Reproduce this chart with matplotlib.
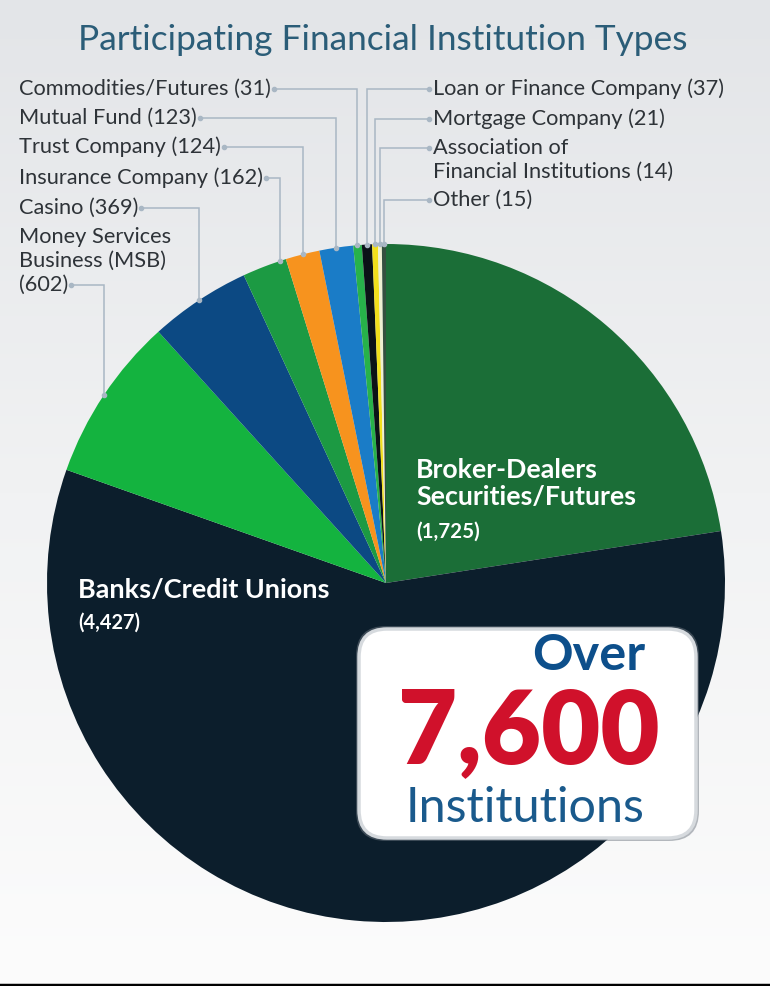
import matplotlib
matplotlib.use("Agg")
import matplotlib.pyplot as plt
import numpy as np
from matplotlib.patches import FancyBboxPatch
from matplotlib.colors import LinearSegmentedColormap

# ---------------- data ----------------
categories = ["Broker-Dealers Securities/Futures", "Banks/Credit Unions",
              "Money Services Business (MSB)", "Casino", "Insurance Company",
              "Trust Company", "Mutual Fund", "Commodities/Futures",
              "Loan or Finance Company", "Mortgage Company",
              "Association of Financial Institutions", "Other"]
counts = [1725, 4427, 602, 369, 162, 124, 123, 31, 37, 21, 14, 15]
slice_colors = ["#1b6e37", "#0c1e2c", "#14b33f", "#0c4983", "#1c9a43",
                "#f7931e", "#1a7cc7", "#27b24a", "#0b1217", "#f2df1c",
                "#eef0d2", "#34503f"]
title = "Participating Financial Institution Types"
total_text = ["Over", "7,600", "Institutions"]

# outside labels: (index, lines, side, y of leader in px)
outside = [
    (7, ["Commodities/Futures (31)"], "L", 89),
    (6, ["Mutual Fund (123)"], "L", 118),
    (5, ["Trust Company (124)"], "L", 147),
    (4, ["Insurance Company (162)"], "L", 178),
    (3, ["Casino (369)"], "L", 208),
    (2, ["Money Services", "Business (MSB)", "(602)"], "L", 285),
    (8, ["Loan or Finance Company (37)"], "R", 89),
    (9, ["Mortgage Company (21)"], "R", 119),
    (10, ["Association of", "Financial Institutions (14)"], "R", 148),
    (11, ["Other (15)"], "R", 200),
]

W, H = 770, 986
def Y(y):
    return H - y

FONT = ["Lato", "DejaVu Sans"]
plt.rcParams["font.family"] = FONT

fig = plt.figure(figsize=(W / 100, H / 100), dpi=100)
ax = fig.add_axes([0, 0, 1, 1])

# background gradient
cmap = LinearSegmentedColormap.from_list("bg", ["#fcfcfc", "#f1f2f3", "#e3e5e8"])
grad = np.linspace(0, 1, 256)[:, None]
ax.imshow(grad, extent=(0, W, 0, H), cmap=cmap, aspect="auto", origin="lower", zorder=0)

cx, cy, R = 386, Y(583), 339
wedges, _ = ax.pie(counts, colors=slice_colors, startangle=90, counterclock=False,
                   center=(cx, cy), radius=R, frame=False,
                   wedgeprops=dict(linewidth=0))
for w in wedges:
    w.set_zorder(2)

ax.set_xlim(0, W)
ax.set_ylim(0, H)
ax.set_aspect("auto")
ax.axis("off")

renderer = fig.canvas.get_renderer()

def fit(t, width):
    w = t.get_window_extent(renderer).width
    t.set_fontsize(t.get_fontsize() * width / w)

# title
tt = ax.text(383, Y(40), title, ha="center", va="center", color="#2b5d78",
             fontsize=24, fontweight="normal", zorder=5)
fit(tt, 611)

# label font size fitted on one label
probe = ax.text(0, 0, "Commodities/Futures (31)", fontsize=14)
fit(probe, 252)
lab_fs = probe.get_fontsize()
probe.remove()

lead_col = "#a9b7c4"
line_gap = 24
for idx, lines, side, ly in outside:
    w = wedges[idx]
    t1, t2 = w.theta1, w.theta2
    mid = np.deg2rad((t1 + t2) / 2)
    xs = sorted([cx + R * np.cos(np.deg2rad(t1)), cx + R * np.cos(np.deg2rad(t2))])
    if side == "L":
        n = len(lines)
        texts = []
        for k, s in enumerate(lines):
            yy = ly - (n - 1 - k) * line_gap
            texts.append(ax.text(19, Y(yy), s, ha="left", va="center",
                                 fontsize=lab_fs, color="#2e3338", zorder=5))
        x_start = texts[-1].get_window_extent(renderer).x1 + 3
        x_e = cx + R * np.cos(mid)
        x_e = max(x_e, min(x_start + 14, xs[1] - 2))
    else:
        texts = []
        for k, s in enumerate(lines):
            yy = ly + k * line_gap
            texts.append(ax.text(433, Y(yy), s, ha="left", va="center",
                                 fontsize=lab_fs, color="#2e3338", zorder=5))
        x_start = texts[0].get_window_extent(renderer).x0 - 4
        x_e = cx + R * np.cos(mid)
    y_e = cy + np.sqrt(max(R ** 2 - (x_e - cx) ** 2, 0))
    ax.plot([x_start, x_e, x_e], [Y(ly), Y(ly), y_e], color=lead_col, lw=1.1,
            zorder=4, solid_joinstyle="miter")
    ax.plot([x_start, x_e], [Y(ly), y_e], ls="none", marker="o", ms=3,
            color=lead_col, zorder=4)

# bold in-slice labels
b1 = ax.text(416, Y(484), "Broker-Dealers\nSecurities/Futures", ha="left", va="center",
             color="white", fontsize=18, fontweight="bold", linespacing=1.15, zorder=5)
fit(b1, 220)
c1 = ax.text(416, Y(532), f"({counts[0]:,})", ha="left", va="center", color="white",
             fontsize=15, fontweight="bold", zorder=5)
fit(c1, 64)
b2 = ax.text(78, Y(590), "Banks/Credit Unions", ha="left", va="center",
             color="white", fontsize=18, fontweight="bold", zorder=5)
fit(b2, 252)
c2 = ax.text(78, Y(623), f"({counts[1]:,})", ha="left", va="center", color="white",
             fontsize=15, fontweight="bold", zorder=5)
fit(c2, 62)

# callout box
shadow = FancyBboxPatch((356, Y(841)), 343, 215,
                        boxstyle="round,pad=0,rounding_size=30",
                        fc="#6d7680", ec="none", alpha=0.5, zorder=6)
ax.add_patch(shadow)
box = FancyBboxPatch((359, Y(838)), 337, 209,
                     boxstyle="round,pad=0,rounding_size=28",
                     fc="white", ec="#d6dade", lw=2.5, zorder=7)
ax.add_patch(box)
o = ax.text(589, Y(655), total_text[0], ha="center", va="center", color="#0d4f8b",
            fontsize=36, fontweight="bold", zorder=8)
fit(o, 113)
n = ax.text(529, Y(733), total_text[1], ha="center", va="center", color="#d0112b",
            fontsize=85, fontweight="heavy", zorder=8)
fit(n, 262)
ins = ax.text(525, Y(808), total_text[2], ha="center", va="center", color="#1a5a8c",
              fontsize=32, zorder=8)
fit(ins, 240)

# bottom frame line
ax.plot([0, W], [1, 1], color="black", lw=2.5, zorder=9)

fig.savefig("out.png", dpi=100)
